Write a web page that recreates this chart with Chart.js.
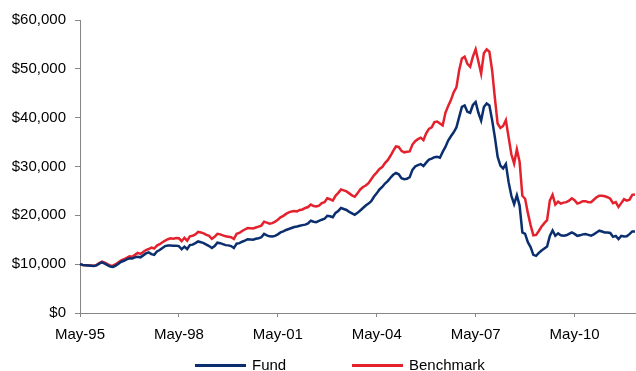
<!DOCTYPE html>
<html>
<head>
<meta charset="utf-8">
<script src="https://cdn.jsdelivr.net/npm/chart.js@4/dist/chart.umd.min.js"></script>
<style>
    html, body { margin: 0; padding: 0; background: #fff; }
    #wrap { position: relative; width: 636px; height: 371px; }
    #legend { position: absolute; left: 0; top: 356px; width: 636px; height: 18px;
              font-family: "Liberation Sans", Arial, sans-serif; font-size: 15px; color: #000; }
    .item { position: absolute; top: 0; line-height: 18px; }
    .swatch { position: absolute; top: 8px; height: 3px; width: 51px; }
</style>
</head>
<body>
<div id="wrap">
    <canvas id="fundChart" width="636" height="371"></canvas>
    <div id="legend">
        <span class="swatch" style="left:195px;background:#0b2f6e"></span>
        <span class="item" style="left:252px">Fund</span>
        <span class="swatch" style="left:352px;background:#e4222d"></span>
        <span class="item" style="left:409px">Benchmark</span>
    </div>
</div>
<script>
// growth of $10,000, monthly from May-95
const seriesNames = ['Fund', 'Benchmark'];
const xTickLabels = ['May-95', 'May-98', 'May-01', 'May-04', 'May-07', 'May-10'];
const yTickValues = [0, 10000, 20000, 30000, 40000, 50000, 60000];

const fundValues = [
    10000, 9850, 9800, 9750, 9700, 9650, 9750, 10100, 10350, 10100, 9800, 9500,
    9450, 9700, 10100, 10500, 10700, 11000, 11200, 11150, 11400, 11500, 11400, 11800,
    12200, 12400, 12050, 11900, 12600, 12900, 13300, 13700, 13800, 13800, 13750, 13750,
    13700, 13050, 13600, 13100, 13900, 14000, 14300, 14650, 14500, 14300, 14000, 13700,
    13300, 13700, 14400, 14300, 14100, 13900, 13850, 13700, 13300, 14200, 14300, 14600,
    14800, 15100, 15050, 15000, 15200, 15300, 15500, 16200, 15900, 15700, 15650, 15800,
    16100, 16500, 16700, 17000, 17200, 17400, 17600, 17700, 17850, 18000, 18100, 18350,
    18900, 18700, 18600, 18850, 19100, 19300, 19900, 19800, 19600, 20500, 20900, 21500,
    21300, 21100, 20700, 20400, 20100, 20500, 21000, 21500, 22000, 22400, 22900, 23800,
    24500, 25300, 25800, 26500, 27000, 27700, 28300, 28700, 28400, 27600, 27400, 27500,
    27800, 29300, 30000, 30300, 30500, 30100, 30800, 31400, 31600, 31900, 32000, 31800,
    33000, 34000, 35300, 36200, 37000, 38000, 40100, 42200, 42500, 41200, 41000, 42600,
    43200, 41000, 39400, 42200, 42900, 42500, 39500, 36000, 32000, 30200, 29600, 30500,
    26800, 24000, 22300, 24100, 22000, 16500, 16200, 14500, 13500, 11900, 11700, 12300,
    12800, 13200, 13600, 15800, 16900, 15800, 16300, 15900, 15800, 15900, 16200, 16500,
    16200, 15800, 15900, 16100, 16150, 16000, 15850, 16100, 16500, 16850, 16700, 16500,
    16500, 16400, 15600, 15800, 15150, 15800, 15650, 15700, 16150, 16700, 16700
];

const benchmarkValues = [
    10000, 9850, 9800, 9800, 9750, 9700, 9800, 10200, 10500, 10300, 10000, 9750,
    9700, 10000, 10400, 10800, 11000, 11300, 11600, 11500, 11900, 12300, 12100, 12500,
    12900, 13100, 13400, 13200, 13800, 14100, 14500, 14800, 15100, 15300, 15200, 15350,
    15300, 14700, 15400, 14800, 15700, 15800, 16100, 16600, 16500, 16300, 16000, 15800,
    15200, 15600, 16200, 16100, 15900, 15700, 15600, 15500, 15150, 16200, 16400, 16800,
    17100, 17400, 17350, 17300, 17500, 17700, 17900, 18700, 18500, 18300, 18400, 18700,
    19100, 19600, 19900, 20300, 20600, 20800, 20900, 20800, 21100, 21200, 21500, 21700,
    22200, 21900, 21800, 22000, 22500, 22700, 23500, 23300, 23000, 24000, 24600, 25300,
    25100, 24900, 24500, 24100, 23800, 24500, 25300, 25800, 26100, 26600, 27400, 28200,
    28800, 29500, 29900, 30700, 31300, 32200, 33200, 34100, 34000, 33200, 32900, 33000,
    33100, 34500, 35200, 35600, 35900, 35400, 36800, 37700, 38000, 39100, 39200, 38800,
    38400, 41000, 42400, 43600, 45200, 46200, 49700, 52100, 52500, 51000, 50400, 52500,
    54000, 51500, 49000, 53200, 54000, 53500, 49700, 44000, 38800, 37900, 38300, 39500,
    36000, 32500, 30600, 33500, 31000, 24000, 23400, 20500, 18000, 15900, 16000, 16800,
    17700, 18400, 19000, 23000, 24200, 22200, 22800, 22400, 22600, 22700, 23000, 23500,
    23100, 22400, 22600, 22900, 22900, 22700, 22700, 23200, 23700, 24000, 24000, 23900,
    23700, 23400, 22500, 22700, 21700, 22500, 23300, 23000, 23200, 24200, 24250
];

// month labels, one per data point
const monthNames = ['Jan', 'Feb', 'Mar', 'Apr', 'May', 'Jun', 'Jul', 'Aug', 'Sep', 'Oct', 'Nov', 'Dec'];
const months = fundValues.map((_, i) => {
    const m = (4 + i) % 12;
    const y = 1995 + Math.floor((4 + i) / 12);
    return monthNames[m] + '-' + String(y).slice(2);
});

const axisGrey = '#868686';
const font = { family: '"Liberation Sans", Arial, sans-serif', size: 15 };

new Chart(document.getElementById('fundChart'), {
    type: 'line',
    data: {
        labels: months,
        datasets: [
            {
                label: seriesNames[0],
                data: fundValues,
                borderColor: '#0b2f6e',
                borderWidth: 2.5,
                pointRadius: 0,
                tension: 0
            },
            {
                label: seriesNames[1],
                data: benchmarkValues,
                borderColor: '#e4222d',
                borderWidth: 2.5,
                pointRadius: 0,
                tension: 0
            }
        ]
    },
    options: {
        responsive: false,
        animation: false,
        devicePixelRatio: 1,
        layout: { padding: { left: 0, right: 1, top: 20, bottom: 28 } },
        plugins: {
            legend: { display: false },
            tooltip: { enabled: false }
        },
        scales: {
            x: {
                offset: false,
                grid: { drawOnChartArea: false, drawTicks: true, tickLength: 4, color: axisGrey },
                border: { display: true, color: axisGrey, width: 1 },
                afterBuildTicks: scale => {
                    scale.ticks = scale.ticks.filter(t => xTickLabels.includes(months[t.value]));
                },
                afterFit: scale => { scale.height = 30; },
                ticks: {
                    autoSkip: false,
                    maxRotation: 0,
                    padding: 9,
                    color: '#000',
                    font: font
                }
            },
            y: {
                min: 0,
                max: 60000,
                grid: { drawOnChartArea: false, drawTicks: true, tickLength: 5, color: axisGrey },
                border: { display: true, color: axisGrey, width: 1 },
                afterBuildTicks: scale => {
                    scale.ticks = yTickValues.map(v => ({ value: v }));
                },
                afterFit: scale => { scale.width = 80; },
                ticks: {
                    padding: 9,
                    color: '#000',
                    font: font,
                    callback: v => '$' + v.toLocaleString('en-US')
                }
            }
        }
    }
});
</script>
</body>
</html>
